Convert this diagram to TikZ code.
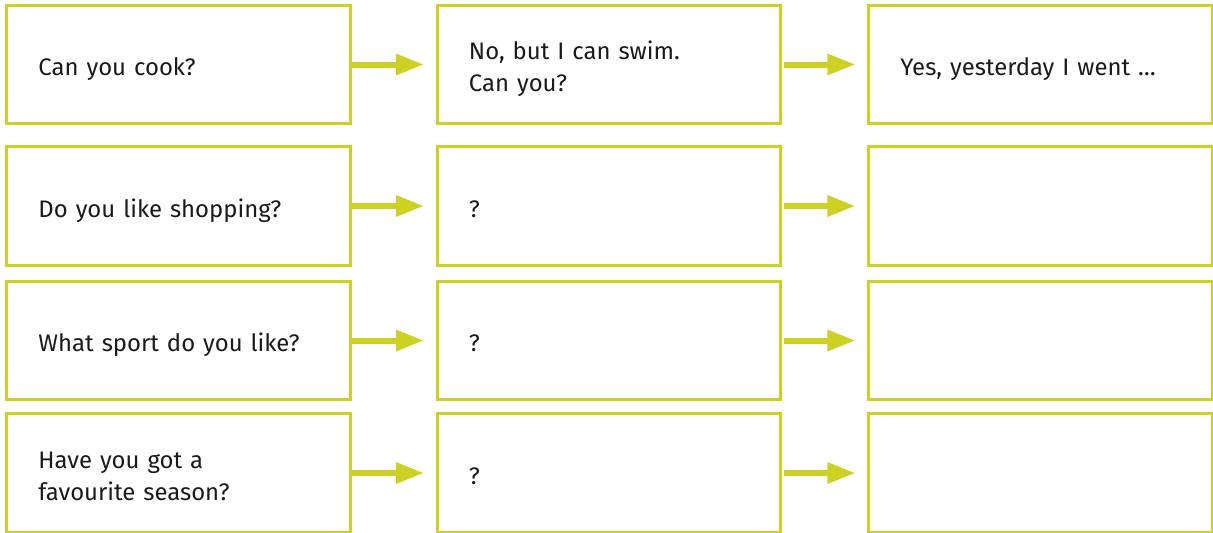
\documentclass[tikz,border=0pt]{standalone}
\usepackage{fontspec}
\setmainfont{Fira Sans}
\usetikzlibrary{arrows.meta}

\definecolor{lime}{RGB}{204,209,36}
\definecolor{ink}{RGB}{26,26,26}

\tikzset{
  ansbox/.style={draw=lime, line width=0.075cm, rectangle,
    minimum width=8.575cm, minimum height=2.95cm,
    text width=7.0cm, inner xsep=0.75cm, align=left,
    text=ink, font=\fontsize{17}{22.8}\selectfont,
    text height=0.95cm, text depth=0.4cm},
  % two lines of text sit higher in the box
  twobox/.style={ansbox, text height=0.4cm, text depth=0.65cm},
  nextarrow/.style={draw=lime, line width=0.15cm,
    -{Triangle[length=0.7cm, width=0.5cm]}, shorten >=0.3cm}
}

\begin{document}
\begin{tikzpicture}[x=0.025cm, y=-0.025cm]

% page frame
\useasboundingbox (0,0) rectangle (1213,533);

% ── column 1: questions ──
\node[ansbox] (q1) at (178.5, 64.5) {Can you cook?};
\node[ansbox] (q2) at (178.5, 206) {Do you like shopping?};
\node[ansbox] (q3) at (178.5, 340.5) {What sport do you like?};
\node[twobox] (q4) at (178.5, 473) {Have you got a\\favourite season?};

% ── column 2: answers ──
\node[twobox] (a1) at (609, 64.5) {No, but I can swim.\\Can you?};
\node[ansbox] (a2) at (609, 206) {?};
\node[ansbox] (a3) at (609, 340.5) {?};
\node[ansbox] (a4) at (609, 473) {?};

% ── column 3: follow-ups ──
\node[ansbox] (f1) at (1040.5, 64.5) {Yes, yesterday I went \dots};
\node[ansbox] (f2) at (1040.5, 206) {};
\node[ansbox] (f3) at (1040.5, 340.5) {};
\node[ansbox] (f4) at (1040.5, 473) {};

% arrows between the columns
\foreach \r in {1,...,4} {
  \draw[nextarrow] (q\r) -- (a\r);
  \draw[nextarrow, shorten <=0.05cm] (a\r) -- (f\r);
}

\end{tikzpicture}
\end{document}
